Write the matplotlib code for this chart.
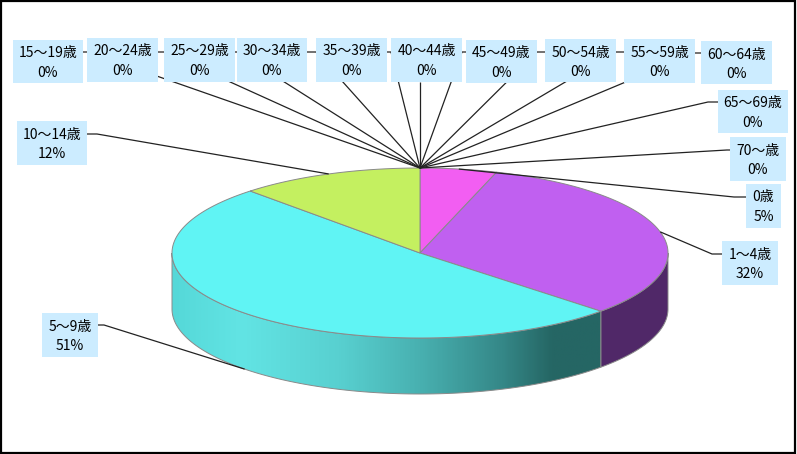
import numpy as np
import matplotlib
matplotlib.use("Agg")
import matplotlib.pyplot as plt
from matplotlib.patches import Polygon, Rectangle
from matplotlib.colors import LinearSegmentedColormap

plt.rcParams["font.family"] = ["Noto Sans CJK JP", "DejaVu Sans"]

# data: age groups and share (%)
categories = ["0歳", "1～4歳", "5～9歳", "10～14歳", "15～19歳", "20～24歳",
              "25～29歳", "30～34歳", "35～39歳", "40～44歳", "45～49歳",
              "50～54歳", "55～59歳", "60～64歳", "65～69歳", "70～歳"]
shares = [5, 32, 51, 12, 0, 0, 0, 0, 0, 0, 0, 0, 0, 0, 0, 0]

top_colors = ["#F25EF2", "#C060F0", "#60F4F4", "#C4F060"]
side_colors = ["#7A2E7A", "#502868", None, "#627830"]

# label boxes (x0, y0, x1, y1) and leader start points, in pixel layout
label_boxes = [
    (746, 184, 781, 228), (722, 241, 778, 285), (42, 313, 98, 357),
    (17, 121, 87, 165), (13, 40, 83, 83), (87, 38, 158, 82),
    (164, 38, 235, 82), (237, 38, 307, 82), (316, 38, 387, 82),
    (391, 38, 462, 82), (466, 40, 537, 83), (545, 39, 616, 82),
    (624, 39, 695, 83), (701, 41, 772, 84), (718, 90, 788, 133),
    (730, 137, 786, 181),
]
leader_starts = [
    [(746, 197), (734, 197)], [(722, 254), (712, 254)],
    [(98, 325), (104, 325)], [(87, 134), (97, 134)],
    [(83, 52), (88, 52)], [(158, 52), (164, 52)], [(235, 52), (237, 52)],
    [(307, 52), (316, 52)], [(387, 52), (391, 52)], [(420, 82)],
    [(466, 52), (462, 52)], [(545, 52), (537, 52)], [(624, 52), (616, 52)],
    [(701, 53), (695, 53)], [(718, 102), (708, 102)], [(730, 150), (727, 150)],
]

W, H = 797, 454
cx, cy, a, b, depth = 420, 253, 248, 85, 56


def ell(theta, dy=0):
    t = np.radians(theta)
    return cx + a * np.sin(t), cy - b * np.cos(t) + dy


fig = plt.figure(figsize=(W / 100, H / 100), dpi=100)
ax = fig.add_axes([0, 0, 1, 1])
ax.set_xlim(0, W)
ax.set_ylim(H, 0)
ax.axis("off")

total = sum(shares)
bounds = np.concatenate([[0], np.cumsum(shares)]) / total * 360
edge = "#8A8A8A"

# side walls (only front half, 90..270 degrees, is visible)
for i in range(4):
    t0, t1 = max(bounds[i], 90), min(bounds[i + 1], 270)
    if t1 <= t0:
        continue
    ts = np.linspace(t0, t1, 120)
    xs, ys = ell(ts)
    pts = np.column_stack([np.r_[xs, xs[::-1]], np.r_[ys, ys[::-1] + depth]])
    if side_colors[i] is None:
        poly = Polygon(pts, closed=True, fc="none", ec=edge, lw=0.7, zorder=2)
        ax.add_patch(poly)
        cmap = LinearSegmentedColormap.from_list("side", [
            (0.0, "#55D8D8"), (0.16, "#62E4E4"), (0.39, "#58D0D0"),
            (0.58, "#48B0B0"), (0.77, "#358888"), (0.89, "#256664"),
            (1.0, "#256664")])
        grad = np.linspace(0, 1, 300).reshape(1, -1)
        im = ax.imshow(grad, cmap=cmap, aspect="auto", zorder=1,
                       extent=(xs.min(), xs.max(), ys.max() + depth, ys.min()))
        im.set_clip_path(poly)
    else:
        ax.add_patch(Polygon(pts, closed=True, fc=side_colors[i], ec=edge,
                             lw=0.7, zorder=1))

# top face
for i in range(4):
    ts = np.linspace(bounds[i], bounds[i + 1], 200)
    xs, ys = ell(ts)
    pts = np.column_stack([np.r_[cx, xs], np.r_[cy, ys]])
    ax.add_patch(Polygon(pts, closed=True, fc=top_colors[i], ec=edge,
                         lw=0.7, zorder=2))

# leader lines
for i, starts in enumerate(leader_starts):
    mid = (bounds[i] + bounds[i + 1]) / 2
    if shares[i] > 0 and 90 < mid < 270:
        end = ell(mid, depth)
    else:
        end = ell(mid)
    px = [p[0] for p in starts] + [end[0]]
    py = [p[1] for p in starts] + [end[1]]
    ax.plot(px, py, color="#222222", lw=0.9, zorder=3, solid_capstyle="butt")

# label boxes
for cat, v, (x0, y0, x1, y1) in zip(categories, shares, label_boxes):
    ax.add_patch(Rectangle((x0, y0), x1 - x0, y1 - y0, fc="#CCECFF",
                           ec="none", zorder=4))
    xm = (x0 + x1) / 2
    ax.text(xm, y0 + 13.5, cat, ha="center", va="center", fontsize=10,
            color="black", zorder=5)
    ax.text(xm, y0 + 33, f"{v}%", ha="center", va="center", fontsize=10,
            color="black", zorder=5)

ax.add_patch(Rectangle((1, 1), W - 2.5, H - 2.5, fill=False, ec="black",
                       lw=1.6, zorder=6))

fig.savefig("out.png", dpi=100)
